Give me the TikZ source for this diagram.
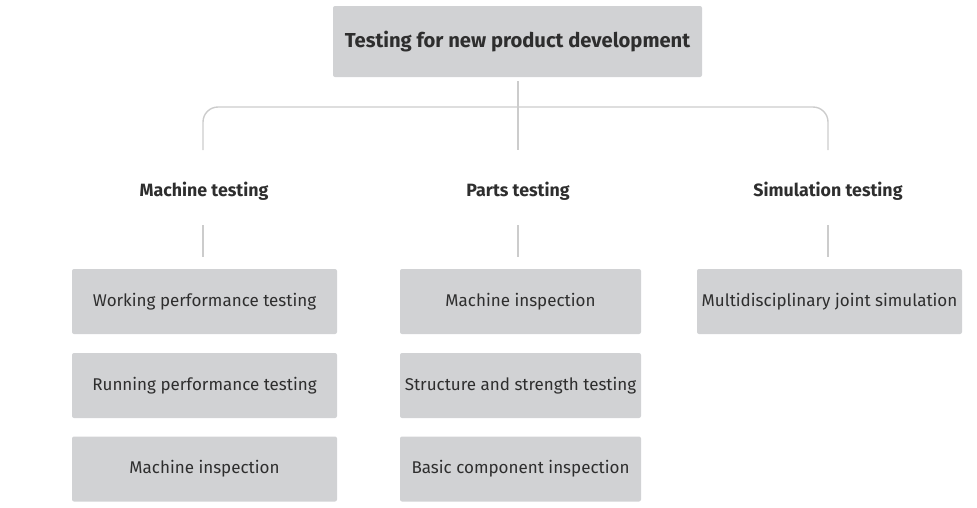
\documentclass[tikz,border=0pt]{standalone}
\usepackage{fontspec}
\setmainfont{Fira Sans}
\definecolor{boxgray}{HTML}{D1D2D4}
\definecolor{linegray}{HTML}{CCCCCC}
\definecolor{textgray}{HTML}{2E2E2E}
\begin{document}
\begin{tikzpicture}[
  x = 1pt, y = -1pt,
  testbox/.style = {
    shape = rectangle,
    fill = boxgray,
    rounded corners = 2pt,
    text = textgray,
    font = \fontsize{17}{20}\selectfont,
    minimum height = 65pt,
    inner sep = 0pt,
    outer sep = 0pt,
  },
  rootbox/.style = {
    testbox,
    minimum width = 369pt,
    minimum height = 71pt,
    font = \fontsize{20.2}{24}\selectfont\bfseries,
  },
  grouplabel/.style = {
    text = textgray,
    font = \fontsize{17.8}{20}\selectfont\bfseries,
    minimum height = 68pt,
    inner sep = 0pt,
    outer sep = 0pt,
  },
  link/.style = {
    draw = linegray,
    line width = 1.4pt,
  }
]
  \useasboundingbox (0, 0) rectangle (977, 507);

  \node[rootbox] (root) at (517.5, 41.5) {Testing for new product development};

  \node[grouplabel] (machine) at (204, 191) {Machine testing};
  \node[grouplabel] (parts) at (518, 191) {Parts testing};
  \node[grouplabel] (simulation) at (828, 191) {Simulation testing};

  \node[testbox, minimum width = 265pt] (working) at (204.5, 301.5) {Working performance testing};
  \node[testbox, minimum width = 265pt] (running) at (204.5, 385.5) {Running performance testing};
  \node[testbox, minimum width = 265pt] (inspect1) at (204.5, 469) {Machine inspection};

  \node[testbox, minimum width = 241pt] (inspect2) at (520.5, 301.5) {Machine inspection};
  \node[testbox, minimum width = 241pt] (strength) at (520.5, 385.5) {Structure and strength testing};
  \node[testbox, minimum width = 241pt] (component) at (520.5, 469) {Basic component inspection};

  \node[testbox, minimum width = 265pt] (joint) at (829.5, 301.5) {Multidisciplinary joint simulation};

  \coordinate (hub) at (518, 107);
  \coordinate (c1) at (203, 150);
  \coordinate (c2) at (518, 150);
  \coordinate (c3) at (828, 150);

  \draw[link] (root.south -| hub) ++(0, 4) -- (c2);
  \draw[link, rounded corners = 15pt] (c1) |- (hub) -| (c3);

  \begin{scope}[every path/.style = {link, shorten > = 12pt}]
    \draw (machine.south -| c1) -- (working.north -| c1);
    \draw (parts.south -| c2) -- (inspect2.north -| c2);
    \draw (simulation.south -| c3) -- (joint.north -| c3);
  \end{scope}
\end{tikzpicture}
\end{document}
